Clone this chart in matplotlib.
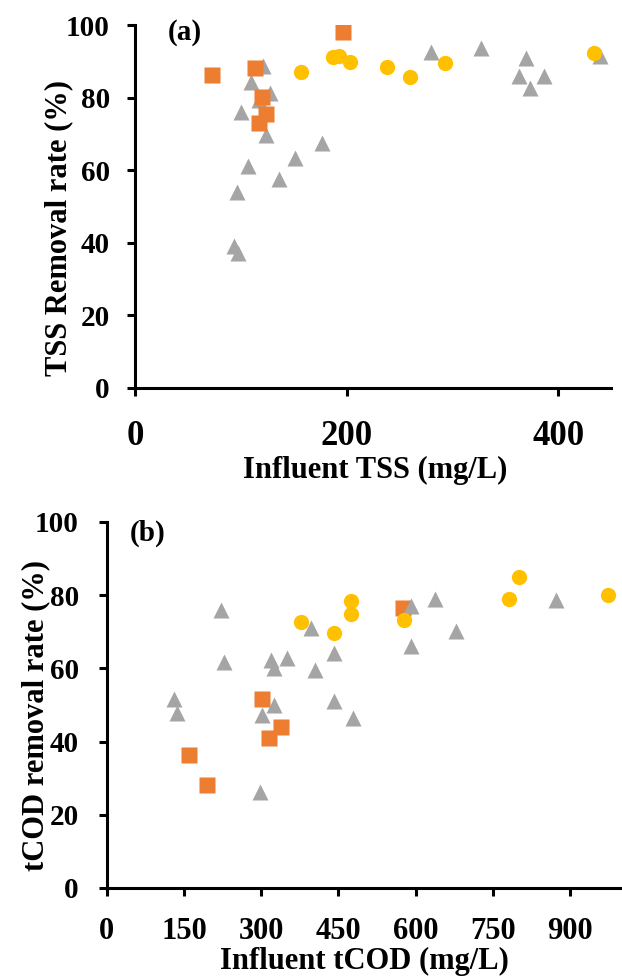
import matplotlib
matplotlib.use("Agg")
import matplotlib.pyplot as plt

plt.rcParams['font.family'] = ['Liberation Serif', 'DejaVu Serif']
plt.rcParams['font.weight'] = 'bold'

# --- data, panel (a): influent TSS vs TSS removal ---
tss_sq_x = [73, 113, 120, 124, 117, 197]
tss_sq_y = [86.2, 88.1, 80.2, 75.5, 73.1, 98.2]
tss_ci_x = [157, 187, 193, 203, 238, 260, 293, 434]
tss_ci_y = [87.1, 91.1, 91.5, 89.8, 88.3, 85.8, 89.6, 92.2]
tss_tr_x = [121, 110, 128, 117, 100, 124, 177, 151, 107, 136, 96, 94, 97,
            280, 327, 370, 363, 387, 373, 440]
tss_tr_y = [88.6, 84.4, 81.2, 79.3, 76.1, 69.7, 67.4, 63.3, 61.2, 57.6, 54.0, 39.0, 37.3,
            92.6, 93.7, 90.8, 86.0, 86.0, 82.7, 91.5]

# --- data, panel (b): influent tCOD vs tCOD removal ---
cod_sq_x = [302, 338, 316, 159, 194, 576]
cod_sq_y = [51.6, 43.9, 41.1, 36.3, 28.1, 76.6]
cod_ci_x = [378, 475, 475, 442, 578, 801, 781, 974]
cod_ci_y = [72.8, 78.4, 74.8, 69.6, 73.2, 85.0, 78.9, 80.0]
cod_tr_x = [222, 397, 442, 228, 319, 326, 351, 405, 131, 137, 326, 302, 442, 479, 298,
            591, 637, 679, 591, 872]
cod_tr_y = [76.0, 71.1, 64.1, 61.7, 62.3, 60.0, 62.8, 59.6, 51.6, 47.7, 50.0, 47.3, 51.1, 46.4, 26.3,
            77.0, 78.9, 70.3, 66.1, 78.6]

ORANGE = '#ED7D31'
YELLOW = '#FFC000'
GREY = '#A5A5A5'
MS = 11

fig = plt.figure(figsize=(6.22, 9.76), dpi=100)
W, H = 622.0, 976.0
ax1 = fig.add_axes([135 / W, 1 - 388 / H, (611 - 135) / W, (388 - 25) / H])
ax2 = fig.add_axes([106.7 / W, 1 - 888 / H, (621.4 - 106.7) / W, (888 - 522) / H])

# panel (a): squares drawn over triangles
ax1.plot(tss_tr_x, tss_tr_y, '^', color=GREY, ms=MS, mec='none', zorder=2)
ax1.plot(tss_sq_x, tss_sq_y, 's', color=ORANGE, ms=MS, mec='none', zorder=3)
ax1.plot(tss_ci_x, tss_ci_y, 'o', color=YELLOW, ms=MS, mec='none', zorder=4)

# panel (b): triangles drawn over squares
ax2.plot(cod_sq_x, cod_sq_y, 's', color=ORANGE, ms=MS, mec='none', zorder=2)
ax2.plot(cod_tr_x, cod_tr_y, '^', color=GREY, ms=MS, mec='none', zorder=3)
ax2.plot(cod_ci_x, cod_ci_y, 'o', color=YELLOW, ms=MS, mec='none', zorder=4)

ax1.set_xlim(0, 450)
ax1.set_ylim(0, 100)
ax1.set_xticks([0, 200, 400])
ax1.set_yticks(range(0, 101, 20))

ax2.set_xlim(0, 1000)
ax2.set_ylim(0, 100)
ax2.set_xticks(range(0, 901, 150))
ax2.set_yticks(range(0, 101, 20))

for ax in (ax1, ax2):
    ax.spines['top'].set_visible(False)
    ax.spines['right'].set_visible(False)
    for s in ('left', 'bottom'):
        ax.spines[s].set_linewidth(2.2)
    ax.tick_params(direction='out', length=6, width=2.2)
    ax.tick_params(axis='y', labelsize=21)

ax1.tick_params(axis='y', pad=12)
ax2.tick_params(axis='y', pad=14)
ax1.tick_params(axis='x', labelsize=25, pad=17)
ax2.tick_params(axis='x', labelsize=22, pad=15)

xl1 = ax1.set_xlabel('Influent TSS (mg/L)', fontsize=22, fontweight='bold')
xl1.set_va('center')
ax1.xaxis.set_label_coords(0.504, -0.226)
yl1 = ax1.set_ylabel('TSS Removal rate (%)', fontsize=22, fontweight='bold')
yl1.set_va('center')
ax1.yaxis.set_label_coords(-0.16, 0.441)

xl2 = ax2.set_xlabel('Influent tCOD (mg/L)', fontsize=22, fontweight='bold')
xl2.set_va('center')
ax2.xaxis.set_label_coords(0.50, -0.202)
yl2 = ax2.set_ylabel('tCOD removal rate (%)', fontsize=22, fontweight='bold')
yl2.set_va('center')
ax2.yaxis.set_label_coords(-0.137, 0.47)

ax1.text(47, 97.8, '(a)', fontsize=21, fontweight='bold', ha='center', va='center', zorder=5)
ax2.text(80, 97.0, '(b)', fontsize=21, fontweight='bold', ha='center', va='center', zorder=5)

for ax in (ax1, ax2):
    for lab in ax.get_xticklabels() + ax.get_yticklabels():
        lab.set_fontweight('bold')

fig.savefig('out.png', dpi=100)
